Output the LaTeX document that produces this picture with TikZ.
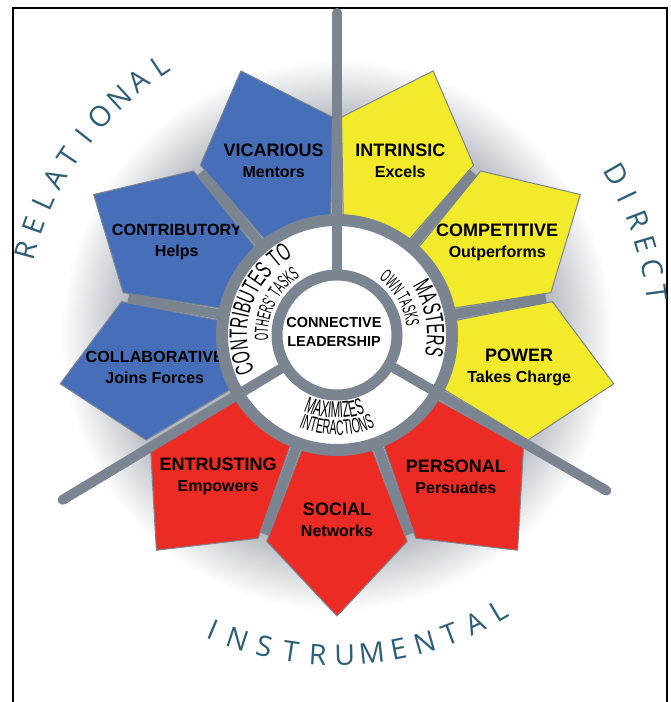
\documentclass[tikz,border=0pt]{standalone}
\usepackage{fontspec}
\setmainfont{Liberation Sans}
\newfontfamily\bandfont[FakeStretch=0.6]{Liberation Sans}
\newfontfamily\bandnarrow[FakeStretch=0.5]{Liberation Sans}
\newfontfamily\rimfont{Open Sans}
\usepackage{xcolor}
\usetikzlibrary{decorations.text}

\definecolor{ringgray}{RGB}{122,133,145}
\definecolor{petalblue}{RGB}{70,110,185}
\definecolor{petalyellow}{RGB}{242,234,43}
\definecolor{petalred}{RGB}{236,43,36}
\definecolor{rimblue}{RGB}{44,94,120}
\definecolor{halogray}{RGB}{178,183,190}

\pgfdeclareradialshading{halo}{\pgfpointorigin}{color(0bp)=(halogray); color(17.5bp)=(halogray); color(23bp)=(white); color(50bp)=(white)}

\begin{document}
\begin{tikzpicture}[x=1pt, y=1pt,
    petal/.style={draw=ringgray, line width=1pt, line join=round},
    petallabel/.style={align=center, inner sep=0pt},
    gapline/.style={ringgray, line width=10pt},
    spoke/.style={ringgray, line width=10pt, line cap=round},
    rimletter/.style={inner sep=0pt, text=rimblue, font=\rimfont\fontsize{28.5}{28.5}\selectfont}]

    \useasboundingbox (-337,-367) rectangle (334,335);
    \draw[line width=2.5pt] (-324,-368) -- (-324,327) -- (330,327) -- (330,-368);

    % soft shadow round the flower
    \shade[shading=halo] (0,0) circle (300);

    % petals
    \foreach \ang/\col/\fs/\name/\sub in {70/petalyellow/18/INTRINSIC/Excels, 30/petalyellow/18/COMPETITIVE/Outperforms,
        -10/petalyellow/18/POWER/Takes Charge, -50/petalred/18/PERSONAL/Persuades, -90/petalred/18/SOCIAL/Networks,
        -130/petalred/18/ENTRUSTING/Empowers, 190/petalblue/16.2/COLLABORATIVE/Joins Forces,
        150/petalblue/16.2/CONTRIBUTORY/Helps, 110/petalblue/18/VICARIOUS/Mentors} {
        \path[petal, fill=\col] (\ang-17:119) -- (\ang-18.8:218) -- (\ang:281) -- (\ang+18.8:218) -- (\ang+17:119) -- cycle;
        \node[petallabel, font=\bfseries\fontsize{\fs}{21}\selectfont] (\name) at (\ang:185)
            {\name\\{\fontsize{16}{18}\selectfont\sub}};
    }

    \foreach \ang in {10,50,130,170,250,290}
        \draw[gapline] (\ang:112) -- (\ang:212);

    % hub
    \coordinate (hub) at (0,0);
    \coordinate (topend) at (90:322);
    \coordinate (leftend) at (211:320);
    \coordinate (rightend) at (330:311);
    \fill[white] (hub) circle (115);
    \draw[ringgray, line width=12pt] (hub) circle (115);
    \draw[spoke] (hub) -- (topend);
    \draw[spoke] (hub) -- (leftend);
    \draw[spoke] (hub) -- (rightend);
    \draw[ringgray, line width=11pt, fill=white] (hub) circle (60);
    \node[align=center, font=\bfseries\fontsize{14.5}{19}\selectfont] (core) at (-3,3) {CONNECTIVE\\LEADERSHIP};

    % band texts
    \path[decorate, decoration={text along path, text align=center,
        text={|\bandfont\fontsize{25}{25}\selectfont|CONTRIBUTES TO}}] (230:90) arc[start angle=230, end angle=93, radius=90];
    \path[decorate, decoration={text along path, text align=center,
        text={|\bandnarrow\fontsize{19}{19}\selectfont|OTHERS' TASKS}}] (220:69) arc[start angle=220, end angle=87, radius=69];
    \path[decorate, decoration={text along path, text align=center,
        text={|\bandfont\fontsize{25}{25}\selectfont|MASTERS}}] (75:90) arc[start angle=75, end angle=-55, radius=90];
    \path[decorate, decoration={text along path, text align=center,
        text={|\bandnarrow\fontsize{19}{19}\selectfont|OWN TASKS}}] (95:70) arc[start angle=95, end angle=-35, radius=70];
    \path[decorate, decoration={text along path, text align=center,
        text={|\bandnarrow\fontsize{23}{23}\selectfont|MAXIMIZES}}] (208:83) arc[start angle=208, end angle=328, radius=83];
    \path[decorate, decoration={text along path, text align=center,
        text={|\bandnarrow\fontsize{21}{21}\selectfont|INTERACTIONS}}] (210:100) arc[start angle=210, end angle=330, radius=100];

    % rim words
    \foreach \ch [count=\i from 0] in {R,E,L,A,T,I,O,N,A,L}
        \node[rimletter, rotate=164.8-4.6*\i-90] (rel\i) at (164.8-4.6*\i:322) {\ch};
    \foreach \ch [count=\i from 0] in {D,I,R,E,C,T}
        \node[rimletter, rotate=29.9-4.48*\i-90] (dir\i) at (29.9-4.48*\i:322) {\ch};
    \foreach \ch [count=\i from 0] in {I,N,S,T,R,U,M,E,N,T,A,L}
        \node[rimletter, rotate=247.2+4.84*\i+90] (ins\i) at (247.2+4.84*\i:320) {\ch};

\end{tikzpicture}
\end{document}
